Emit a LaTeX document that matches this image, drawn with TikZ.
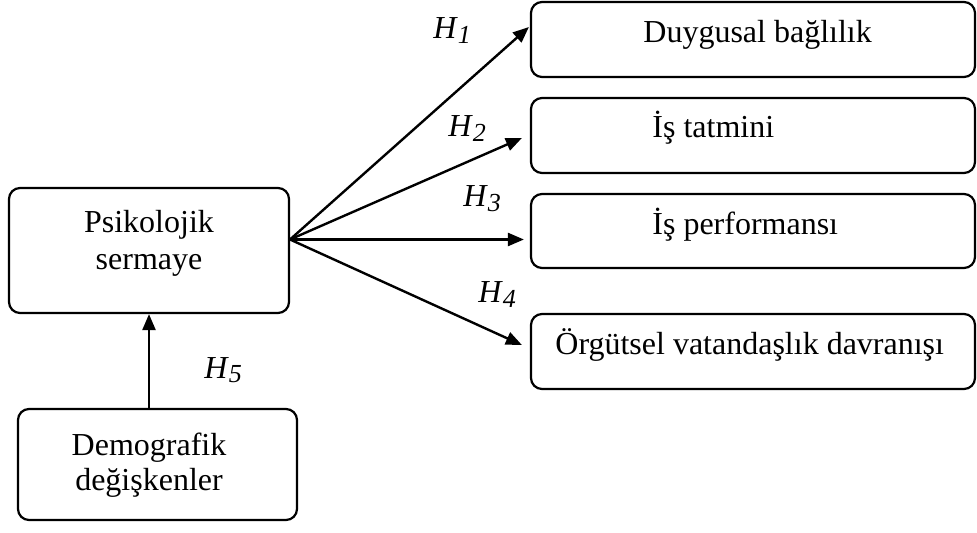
\documentclass[tikz,border=0pt]{standalone}
\usepackage{fontspec}
\setmainfont{Liberation Serif}
\usetikzlibrary{arrows.meta,calc}
\newcommand{\hsub}[1]{\textit{H}\raisebox{-2.2pt}{\fontsize{13}{13}\selectfont\itshape #1}}
\begin{document}
\begin{tikzpicture}[x=0.5pt,y=-0.5pt,
  box/.style={draw,line width=1.1pt,rounded corners=5.5pt,inner sep=0pt,minimum width=0pt},
  txt/.style={inner sep=0pt,font=\fontsize{16}{18.5}\selectfont},
  hlab/.style={inner sep=0pt,anchor=base west,font=\fontsize{16}{18.5}\selectfont},
  arr/.style={line width=1.2pt,-{Triangle[length=8pt,width=6.5pt]}}]
\useasboundingbox (0,0) rectangle (977,533);
% right boxes
\node[box,minimum width=222pt,minimum height=37.5pt] (b1) at (753,39.5) {};
\node[box,minimum width=222pt,minimum height=37.5pt] (b2) at (753,135.5) {};
\node[box,minimum width=222pt,minimum height=37pt] (b3) at (753,231) {};
\node[box,minimum width=222pt,minimum height=37.5pt] (b4) at (753,351.5) {};
% left boxes
\node[box,minimum width=140pt,minimum height=62.5pt] (psy) at (149,250.5) {};
\node[box,minimum width=139.5pt,minimum height=55.5pt] (dem) at (157.5,464.5) {};
% texts
\node[txt,anchor=base west] (t1) at (643,43) {Duygusal bağlılık};
\node[txt,anchor=base west] (t2) at (652,138) {İş tatmini};
\node[txt,anchor=base west] (t3) at (652,235) {İş performansı};
\node[txt,anchor=base west] (t4) at (555,355) {Örgütsel vatandaşlık davranışı};
\node[txt,anchor=base] (p1) at (149,233) {Psikolojik};
\node[txt,anchor=base] (p2) at (149,270) {sermaye};
\node[txt,anchor=base] (d1) at (149,455) {Demografik};
\node[txt,anchor=base] (d2) at (149,490) {değişkenler};
% connectors
\coordinate (o) at (290,239.5);
\draw[arr] (o) -- ($(b1.west)+(-1,-12.5)$);
\draw[arr] (o) -- ($(b2.west)+(-8,2.5)$);
\draw[arr] (o) -- ($(b3.west)+(-6,8.5)$);
\draw[arr] (o) -- ($(b4.west)+(-8,-6.5)$);
\draw[arr] (dem.north -| psy.south) -- (psy.south);
% labels
\node[hlab] (h1) at (433,39) {\hsub{1}};
\node[hlab] (h2) at (448,137) {\hsub{2}};
\node[hlab] (h3) at (463,207) {\hsub{3}};
\node[hlab] (h4) at (478,303) {\hsub{4}};
\node[hlab] (h5) at (204,378) {\hsub{5}};
\end{tikzpicture}
\end{document}
